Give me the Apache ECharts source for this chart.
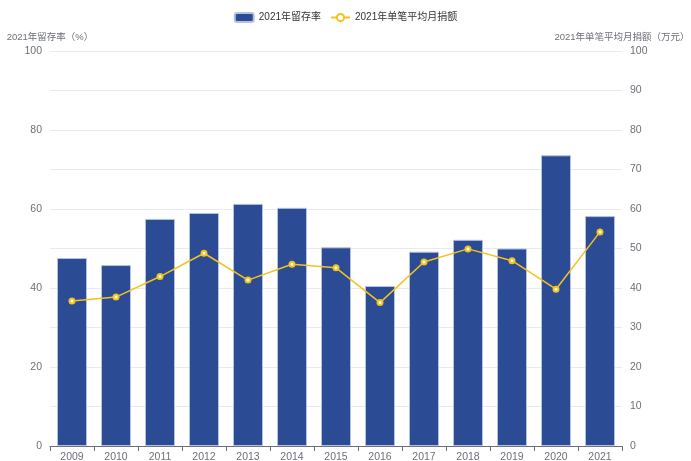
<!DOCTYPE html>
<html>
<head>
<meta charset="utf-8">
<script src="https://cdn.jsdelivr.net/npm/echarts@6/dist/echarts.min.js"></script>
<style>
  html, body { margin: 0; padding: 0; background: #fff; }
  #main { width: 691px; height: 461px; }
</style>
</head>
<body>
<div id="main"></div>
<script>
var years = ['2009', '2010', '2011', '2012', '2013', '2014', '2015', '2016', '2017', '2018', '2019', '2020', '2021'];
var retention = [47.6, 45.8, 57.5, 59.0, 61.3, 60.3, 50.3, 40.5, 49.2, 52.2, 50.0, 73.6, 58.2];
var avgDonation = [36.7, 37.7, 42.9, 48.8, 42.0, 46.0, 45.1, 36.3, 46.6, 49.9, 46.9, 39.7, 54.2];

var chartDom = document.getElementById('main');
var myChart = echarts.init(chartDom);
var option;

var fontFamily = '"Liberation Sans", "Noto Sans CJK SC", sans-serif';

option = {
    textStyle: { fontFamily: fontFamily },
    animation: false,
    legend: {
        top: 7,
        left: 'center',
        itemWidth: 19,
        itemHeight: 9,
        itemGap: 9,
        textStyle: { fontSize: 10, color: '#333', fontFamily: fontFamily },
        data: ['2021年留存率', '2021年单笔平均月捐额']
    },
    grid: {
        left: 50,
        right: 69,
        top: 51,
        bottom: 15,
        containLabel: false,
        outerBoundsMode: 'none'
    },
    xAxis: {
        type: 'category',
        data: years,
        axisLine: { lineStyle: { color: '#6e7079' } },
        axisTick: { show: true },
        axisLabel: { color: '#6e7079', fontSize: 10.5, margin: 6 }
    },
    yAxis: [
        {
            type: 'value',
            name: '2021年留存率（%）',
            min: 0,
            max: 100,
            interval: 20,
            nameGap: 9,
            nameTextStyle: { color: '#6e7079', fontSize: 9.5 },
            axisLabel: { color: '#6e7079', fontSize: 10.5 },
            splitLine: { show: false }
        },
        {
            type: 'value',
            name: '2021年单笔平均月捐额（万元）',
            min: 0,
            max: 100,
            interval: 10,
            nameGap: 9,
            nameTextStyle: { color: '#6e7079', fontSize: 9.5 },
            axisLabel: { color: '#6e7079', fontSize: 10.5 },
            splitLine: { show: true, lineStyle: { color: '#e6eaf4' } }
        }
    ],
    series: [
        {
            name: '2021年留存率',
            type: 'bar',
            yAxisIndex: 0,
            barWidth: 30,
            itemStyle: {
                color: '#2b4b95',
                borderColor: '#b6c3e0',
                borderWidth: 1
            },
            data: retention
        },
        {
            name: '2021年单笔平均月捐额',
            type: 'line',
            yAxisIndex: 1,
            symbol: 'emptyCircle',
            symbolSize: 5,
            lineStyle: { color: '#f5c21b', width: 1.5 },
            itemStyle: { color: '#f5c21b', borderWidth: 1.5 },
            data: avgDonation
        }
    ]
};

option && myChart.setOption(option);
</script>
</body>
</html>
